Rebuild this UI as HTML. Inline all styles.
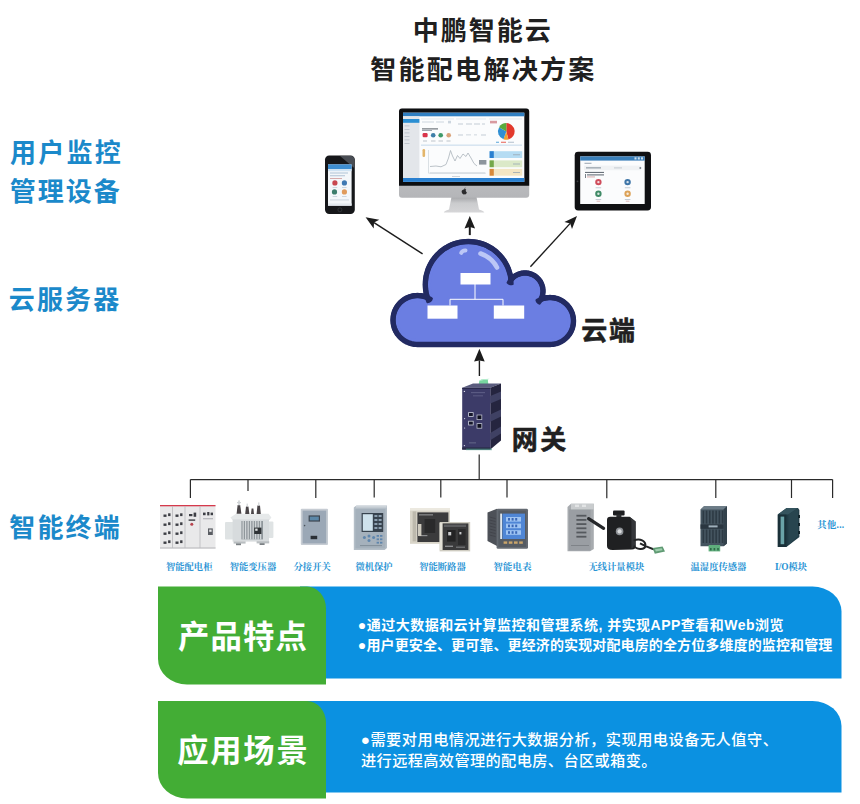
<!DOCTYPE html>
<html lang="zh"><head><meta charset="utf-8"><title>中鹏智能云 智能配电解决方案</title><style>html,body{margin:0;padding:0;background:#fff;font-family:"Liberation Sans",sans-serif}svg{display:block}</style></head><body>
<svg width="860" height="804" viewBox="0 0 860 804"><path d="M510.5 276.1 L509.8 273.4 L509.0 270.7 L508.0 268.0 L506.9 265.5 L505.5 263.0 L504.1 260.6 L502.4 258.3 L500.6 256.1 L498.7 254.1 L496.7 252.2 L494.5 250.4 L492.2 248.7 L489.8 247.3 L487.3 245.9 L484.8 244.8 L482.1 243.8 L479.4 243.0 L476.7 242.3 L473.9 241.9 L471.1 241.6 L468.3 241.5 L465.5 241.6 L462.7 241.9 L459.9 242.3 L457.2 243.0 L454.5 243.8 L451.8 244.8 L449.3 245.9 L446.8 247.3 L444.4 248.7 L442.1 250.4 L439.9 252.2 L437.9 254.1 L436.0 256.1 L434.2 258.3 L432.5 260.6 L431.1 263.0 L429.7 265.5 L428.6 268.0 L427.6 270.7 L426.8 273.4 L426.1 276.1 L425.7 278.9 L425.4 281.7 L425.3 284.5 L425.4 287.3 L425.7 290.1 L426.1 292.9 L426.8 295.6 L427.4 297.6 L426.9 297.4 L425.4 296.8 L423.8 296.3 L422.3 296.0 L420.7 295.7 L419.1 295.6 L417.5 295.5 L415.9 295.6 L414.3 295.7 L412.7 296.0 L411.2 296.3 L409.6 296.8 L408.1 297.4 L406.7 298.0 L405.2 298.8 L403.9 299.6 L402.6 300.6 L401.3 301.6 L400.2 302.7 L399.1 303.8 L398.1 305.1 L397.1 306.4 L396.3 307.8 L395.5 309.2 L394.9 310.6 L394.3 312.1 L393.8 313.7 L393.5 315.2 L393.2 316.8 L393.1 318.4 L393.0 320.0 L393.1 321.6 L393.2 323.2 L393.5 324.8 L393.8 326.3 L394.3 327.9 L394.9 329.4 L395.5 330.8 L396.3 332.2 L397.1 333.6 L398.1 334.9 L399.1 336.2 L400.2 337.3 L401.3 338.4 L402.6 339.4 L403.9 340.4 L405.2 341.2 L406.7 342.0 L408.1 342.6 L409.6 343.2 L411.2 343.7 L412.7 344.0 L414.3 344.3 L415.9 344.4 L417.5 344.5 L550.0 344.5 L551.5 344.4 L553.1 344.3 L554.6 344.0 L556.1 343.7 L557.6 343.3 L559.0 342.7 L560.4 342.1 L561.8 341.4 L563.1 340.5 L564.3 339.6 L565.5 338.7 L566.6 337.6 L567.7 336.5 L568.6 335.3 L569.5 334.1 L570.4 332.8 L571.1 331.4 L571.7 330.0 L572.3 328.6 L572.7 327.1 L573.0 325.6 L573.3 324.1 L573.4 322.5 L573.5 321.0 L573.4 319.5 L573.3 317.9 L573.0 316.4 L572.7 314.9 L572.3 313.4 L571.7 312.0 L571.1 310.6 L570.4 309.2 L569.5 307.9 L568.6 306.7 L567.7 305.5 L566.6 304.4 L565.5 303.3 L564.3 302.4 L563.1 301.5 L561.8 300.6 L560.4 299.9 L559.0 299.3 L557.6 298.7 L556.1 298.3 L554.6 298.0 L553.1 297.7 L551.5 297.6 L550.0 297.5 L548.5 297.6 L546.9 297.7 L545.4 298.0 L543.9 298.3 L542.4 298.7 L541.0 299.3 L541.0 299.3 L541.1 299.0 L541.6 297.9 L542.0 296.8 L542.4 295.7 L542.7 294.5 L542.8 293.3 L543.0 292.2 L543.0 291.0 L543.0 289.8 L542.8 288.7 L542.7 287.5 L542.4 286.3 L542.0 285.2 L541.6 284.1 L541.1 283.0 L540.6 282.0 L540.0 281.0 L539.3 280.0 L538.5 279.1 L537.7 278.3 L536.9 277.5 L536.0 276.7 L535.0 276.0 L534.0 275.4 L533.0 274.9 L531.9 274.4 L530.8 274.0 L529.7 273.6 L528.5 273.3 L527.3 273.2 L526.2 273.0 L525.0 273.0 L523.8 273.0 L522.7 273.2 L521.5 273.3 L520.3 273.6 L519.2 274.0 L518.1 274.4 L517.0 274.9 L516.0 275.4 L515.0 276.0 L514.0 276.7 L513.1 277.5 L512.3 278.3 L511.5 279.1 L511.0 279.7 L510.9 278.9Z" fill="#6b7ee2" stroke="#222a62" stroke-width="5.4" stroke-linejoin="round"/><clipPath id="cc"><rect x="380" y="230" width="210" height="106"/></clipPath><g fill="none" stroke="#222a62" stroke-width="4.800000000000001" clip-path="url(#cc)"><circle cx="468.3" cy="284.5" r="43.0"/><circle cx="417.5" cy="320.0" r="24.5"/><circle cx="550.0" cy="321.0" r="23.5"/><circle cx="525.0" cy="291.0" r="18.0"/></g><path d="M505.0 277.2 L504.4 274.8 L503.7 272.5 L502.9 270.2 L501.8 268.0 L500.7 265.8 L499.4 263.7 L498.0 261.7 L496.4 259.8 L494.7 258.1 L493.0 256.4 L491.1 254.8 L489.1 253.4 L487.0 252.1 L484.8 251.0 L482.6 249.9 L480.3 249.1 L478.0 248.4 L475.6 247.8 L473.2 247.4 L470.7 247.2 L468.3 247.1 L465.9 247.2 L463.4 247.4 L461.0 247.8 L458.6 248.4 L456.3 249.1 L454.0 249.9 L451.8 251.0 L449.6 252.1 L447.5 253.4 L445.5 254.8 L443.6 256.4 L441.9 258.1 L440.2 259.8 L438.6 261.7 L437.2 263.7 L435.9 265.8 L434.8 268.0 L433.7 270.2 L432.9 272.5 L432.2 274.8 L431.6 277.2 L431.2 279.6 L431.0 282.1 L430.9 284.5 L431.0 286.9 L431.2 289.4 L431.6 291.8 L432.2 294.2 L432.7 296.0 L432.9 296.5 L432.9 297.1 L433.0 297.6 L432.9 298.2 L432.8 298.7 L432.7 299.3 L432.5 299.8 L432.3 300.3 L432.0 300.8 L431.6 301.2 L431.3 301.6 L430.8 302.0 L430.4 302.3 L429.9 302.6 L429.4 302.8 L428.9 303.0 L428.3 303.1 L427.8 303.2 L427.2 303.2 L426.7 303.1 L426.1 303.0 L425.6 302.9 L425.0 302.7 L424.7 302.5 L423.6 302.1 L422.4 301.7 L421.2 301.5 L420.0 301.3 L418.7 301.1 L417.5 301.1 L416.3 301.1 L415.0 301.3 L413.8 301.5 L412.6 301.7 L411.4 302.1 L410.3 302.5 L409.1 303.1 L408.1 303.6 L407.0 304.3 L406.0 305.0 L405.0 305.8 L404.1 306.6 L403.3 307.5 L402.5 308.5 L401.8 309.5 L401.1 310.6 L400.6 311.6 L400.0 312.8 L399.6 313.9 L399.2 315.1 L399.0 316.3 L398.8 317.5 L398.6 318.8 L398.6 320.0 L398.6 321.2 L398.8 322.5 L399.0 323.7 L399.2 324.9 L399.6 326.1 L400.0 327.2 L400.6 328.4 L401.1 329.4 L401.8 330.5 L402.5 331.5 L403.3 332.5 L404.1 333.4 L405.0 334.2 L406.0 335.0 L407.0 335.7 L408.1 336.4 L409.1 336.9 L410.3 337.5 L411.4 337.9 L412.6 338.3 L413.8 338.5 L415.0 338.7 L416.3 338.9 L417.6 338.9 L549.9 338.9 L551.2 338.9 L552.3 338.7 L553.5 338.6 L554.6 338.3 L555.8 337.9 L556.8 337.5 L557.9 337.1 L558.9 336.5 L559.9 335.9 L560.9 335.2 L561.8 334.5 L562.7 333.7 L563.5 332.8 L564.2 331.9 L564.9 330.9 L565.5 329.9 L566.1 328.9 L566.5 327.8 L566.9 326.8 L567.3 325.6 L567.6 324.5 L567.7 323.3 L567.9 322.2 L567.9 321.0 L567.9 319.8 L567.7 318.7 L567.6 317.5 L567.3 316.4 L566.9 315.2 L566.5 314.2 L566.1 313.1 L565.5 312.1 L564.9 311.1 L564.2 310.1 L563.5 309.2 L562.7 308.3 L561.8 307.5 L560.9 306.8 L559.9 306.1 L558.9 305.5 L557.9 304.9 L556.8 304.5 L555.8 304.1 L554.6 303.7 L553.5 303.4 L552.3 303.3 L551.2 303.1 L550.0 303.1 L548.8 303.1 L547.7 303.3 L546.5 303.4 L545.4 303.7 L544.2 304.1 L543.0 304.5 L543.0 304.5 L542.7 304.6 L542.2 304.8 L541.7 304.9 L541.1 304.9 L540.6 304.9 L540.0 304.8 L539.5 304.7 L538.9 304.5 L538.4 304.3 L537.9 304.0 L537.5 303.7 L537.1 303.3 L536.7 302.9 L536.3 302.5 L536.1 302.0 L535.8 301.5 L535.6 301.0 L535.5 300.5 L535.4 299.9 L535.4 299.3 L535.4 298.8 L535.5 298.2 L535.6 297.7 L535.8 297.2 L536.0 296.7 L536.1 296.5 L536.5 295.7 L536.7 295.0 L537.0 294.2 L537.2 293.4 L537.3 292.6 L537.4 291.8 L537.4 291.0 L537.4 290.2 L537.3 289.4 L537.2 288.6 L537.0 287.8 L536.7 287.0 L536.5 286.3 L536.1 285.5 L535.7 284.8 L535.3 284.1 L534.8 283.5 L534.3 282.8 L533.8 282.2 L533.2 281.7 L532.5 281.2 L531.9 280.7 L531.2 280.3 L530.5 279.9 L529.7 279.5 L529.0 279.3 L528.2 279.0 L527.4 278.8 L526.6 278.7 L525.8 278.6 L525.0 278.6 L524.2 278.6 L523.4 278.7 L522.6 278.8 L521.8 279.0 L521.0 279.3 L520.3 279.5 L519.5 279.9 L518.8 280.3 L518.1 280.7 L517.5 281.2 L516.8 281.7 L516.2 282.2 L515.7 282.8 L515.3 283.2 L515.0 283.6 L514.6 284.0 L514.1 284.3 L513.7 284.6 L513.2 284.9 L512.6 285.0 L512.1 285.2 L511.6 285.3 L511.0 285.3 L510.5 285.3 L509.9 285.2 L509.4 285.0 L508.9 284.9 L508.4 284.6 L507.9 284.3 L507.5 284.0 L507.1 283.6 L506.7 283.2 L506.4 282.8 L506.1 282.3 L505.8 281.8 L505.7 281.3 L505.5 280.8 L505.4 280.2 L505.4 279.6Z" fill="#6b7ee2"/><g fill="none" stroke="#bcc7f6" stroke-linecap="round"><path d="M461.2 252.8 Q462.5 250.2 465.5 250.4" stroke-width="4"/><path d="M480.5 253.5 Q492 257.5 497 267.5" stroke-width="4.6"/></g><g fill="#fff"><rect x="460.5" y="273" width="30" height="11.5"/><rect x="427.5" y="305.5" width="30" height="13.2"/><rect x="493.8" y="305.5" width="30.4" height="13.2"/></g><path d="M475 284 V299.3 M450 305.5 V299.3 H503 V305.5" fill="none" stroke="#fff" stroke-width="1"/><path d="M422.6 253.8 L374.0 222.6" stroke="#1c1c1c" stroke-width="1.4" fill="none"/><path fill="#1c1c1c" d="M365.6 217.2 L379.3 219.8 L374.0 222.6 L373.7 228.6 Z"/><path d="M469.8 235.1 L469.8 227.0" stroke="#1c1c1c" stroke-width="2" fill="none"/><path fill="#1c1c1c" d="M469.8 216.0 L475.1 228.5 L469.8 227.0 L464.5 228.5 Z"/><path d="M530.4 266.7 L570.2 223.4" stroke="#1c1c1c" stroke-width="1.4" fill="none"/><path fill="#1c1c1c" d="M577.0 216.0 L572.0 229.1 L570.2 223.4 L564.4 222.1 Z"/><path d="M479.4 376.0 L479.4 360.4" stroke="#1c1c1c" stroke-width="1.4" fill="none"/><path fill="#1c1c1c" d="M479.4 348.8 L484.7 361.4 L479.4 360.4 L474.1 361.4 Z"/><g><rect x="325" y="155.4" width="29.8" height="58.6" rx="4.2" fill="#16171a"/><path d="M340 156 H351 Q354.2 156 354.2 159.5 V168 Z" fill="#5b6068" opacity=".75"/><rect x="328" y="164.4" width="23.6" height="41.3" fill="#f4f7fa"/><rect x="328" y="164.4" width="23.6" height="4.6" fill="#3f8fd2"/><rect x="328" y="169" width="23.6" height="2.2" fill="#cfe3f3"/><g fill="#9fb6cc"><rect x="330" y="172.6" width="18" height=".8"/><rect x="330" y="175.4" width="15" height=".8"/><rect x="330" y="178" width="12" height=".7" fill="#c98a8a"/></g><circle cx="334.9" cy="182.9" r="2.6" fill="#c8474f"/><circle cx="344.4" cy="182.9" r="2.6" fill="#3f79b2"/><circle cx="334.5" cy="191.9" r="2.6" fill="#3c7d6c"/><circle cx="344.4" cy="191.9" r="2.6" fill="#e09b5c"/><g fill="#b9c6d2"><rect x="332.6" y="187" width="4.6" height=".7"/><rect x="342" y="187" width="4.6" height=".7"/><rect x="332.6" y="196" width="4.6" height=".7"/><rect x="342" y="196" width="4.6" height=".7"/><rect x="330" y="199.6" width="19" height=".7"/></g><rect x="328" y="203.4" width="23.6" height="2.3" fill="#e3e9ef"/><circle cx="339.9" cy="209.8" r="2" fill="none" stroke="#3a3d42" stroke-width=".7"/></g><defs><linearGradient id="chin" x1="0" y1="0" x2="0" y2="1"><stop offset="0" stop-color="#d9dadc"/><stop offset="1" stop-color="#b4b5b8"/></linearGradient><linearGradient id="stand" x1="0" y1="0" x2="0" y2="1"><stop offset="0" stop-color="#a4a5a8"/><stop offset=".4" stop-color="#cbccce"/><stop offset="1" stop-color="#d6d6d8"/></linearGradient></defs><path d="M451.5 197 H476.5 L479 209.5 Q484 211 484.3 212.6 H443.8 Q444 211 449 209.5 Z" fill="url(#stand)"/><rect x="399" y="108.4" width="130.2" height="89.4" rx="3" fill="url(#chin)"/><path d="M402 108.4 H526.2 Q529.2 108.4 529.2 111.4 V185.8 H399 V111.4 Q399 108.4 402 108.4Z" fill="#0d0e10"/><rect x="403" y="112.7" width="121.3" height="69.2" fill="#fbfcfd"/><rect x="403" y="112.7" width="121.3" height="3.6" fill="#2f7fc2"/><rect x="403" y="116.3" width="16.4" height="61.8" fill="#e3e6ea"/><rect x="403" y="119" width="16.4" height="3.8" fill="#2b8fd3"/><g fill="#b7bec7"><rect x="404.5" y="125.5" width="5" height=".8"/><rect x="404.5" y="129" width="5" height=".8"/><rect x="404.5" y="132.5" width="5" height=".8"/><rect x="404.5" y="136" width="5" height=".8"/><rect x="404.5" y="139.5" width="5" height=".8"/><rect x="404.5" y="143" width="5" height=".8"/></g><rect x="403" y="178" width="121.3" height="3.9" fill="#2a80d0"/><g fill="#dfe7ee"><rect x="421" y="118.5" width="33" height=".9"/><rect x="456" y="118.5" width="30" height=".9"/><rect x="489" y="118.5" width="33" height=".9"/><rect x="421" y="144.6" width="101" height="1.1" fill="#c9dcec"/></g><g fill="#cdd6df"><rect x="422" y="121.5" width="12" height="1"/><rect x="436" y="121.5" width="8" height="1"/><rect x="448" y="120.8" width="3" height="2.6"/><rect x="422" y="128.4" width="16" height="1" fill="#555d66"/><rect x="422" y="130.2" width="10" height=".8" fill="#8a939c"/></g><g fill="#c3ccd6"><rect x="458" y="123.5" width="5" height="1"/><rect x="466" y="123.5" width="6" height="1"/><rect x="474" y="123.5" width="6" height="1"/><rect x="482" y="123.5" width="3" height="1"/><rect x="458" y="134.5" width="5" height="1"/><rect x="466" y="134.5" width="5" height=".8"/><rect x="474" y="134.5" width="3" height=".8"/><rect x="481" y="134.5" width="5" height="1"/></g><rect x="422.6" y="133" width="5" height="4.2" rx="1.2" fill="#d9344a"/><circle cx="433.2" cy="135.2" r="2.3" fill="#3f7fa8"/><circle cx="440.7" cy="135.2" r="2.3" fill="#3f9a6a"/><circle cx="448.7" cy="135.2" r="2.3" fill="#d9a27a"/><g fill="#aeb6bf"><rect x="423" y="140.6" width="4" height=".8"/><rect x="431" y="140.6" width="4.5" height=".8"/><rect x="438.5" y="140.6" width="4.5" height=".8"/><rect x="446.5" y="140.6" width="4" height=".8"/></g><path d="M506.30 131.40 L506.30 123.10 A8.3 8.3 0 0 1 508.45 139.42 Z" fill="#e2392c"/><path d="M506.30 131.40 L508.45 139.42 A8.3 8.3 0 0 1 503.46 139.20 Z" fill="#f0a030"/><path d="M506.30 131.40 L503.46 139.20 A8.3 8.3 0 0 1 499.11 127.25 Z" fill="#2f8fd3"/><path d="M506.30 131.40 L499.11 127.25 A8.3 8.3 0 0 1 506.30 123.10 Z" fill="#5aaa3c"/><rect x="490" y="120.8" width="7" height="2.6" fill="#d99aa0"/><g fill="#9fb0c0"><rect x="496" y="141.8" width="3" height=".8" fill="#2f8fd3"/><rect x="501" y="141.8" width="5" height=".8" fill="#e2392c"/><rect x="508" y="141.8" width="6" height=".8"/></g><rect x="422.5" y="149" width="2.6" height="8" rx="1.2" fill="#e3b56a"/><path d="M428.5 150 V173.2 H486" fill="none" stroke="#c5ccd3" stroke-width=".6"/><path d="M430 166.5 L436 166 L441 166.8 L446 164.5 L448.5 158 L450.5 150.5 L452.5 156 L455 161 L457.5 155.5 L460 158.5 L463 154 L466 156.5 L468 153 L471 158 L474 163.5 L477 166" fill="none" stroke="#aab2ba" stroke-width=".8"/><g fill="#c3cad1"><rect x="430" y="172.6" width="55" height=".7"/><rect x="452" y="176" width="8" height=".8"/></g><rect x="479" y="160" width="7.4" height="4.6" fill="#8d959d"/><rect x="489.6" y="151.2" width="32.6" height="6.8" fill="#b5dcf3"/><rect x="489.6" y="151.2" width="4.2" height="6.8" fill="#2a80d0"/><rect x="513" y="154.39999999999998" width="7" height=".8" fill="#9aa7b3"/><rect x="489.6" y="160.4" width="32.6" height="6.8" fill="#dbe9c8"/><rect x="489.6" y="160.4" width="4.2" height="6.8" fill="#74a84a"/><rect x="513" y="163.6" width="7" height=".8" fill="#9aa7b3"/><rect x="489.6" y="168.9" width="32.6" height="6.8" fill="#f4e6c4"/><rect x="489.6" y="168.9" width="4.2" height="6.8" fill="#d98a3a"/><rect x="513" y="172.1" width="7" height=".8" fill="#9aa7b3"/><path d="M463.6 189.4 q1.4 -.9 2.6 0 q-.9 1 -.2 2.2 q.4 .6 .9 .8 q-.7 2 -1.9 2.1 q-.7 -.4 -1.4 0 q-1.3 -.2 -1.9 -2.2 q-.5 -2.3 1.9 -2.9z M464.3 188.9 q.1 -1.2 1.2 -1.5 q.1 1.2 -1.2 1.5z" fill="#2b2b2d"/><rect x="574.7" y="151.8" width="76.3" height="58.6" rx="3.4" fill="#101113"/><rect x="580.2" y="156.4" width="64.5" height="47.6" fill="#fbfcfd"/><rect x="580.2" y="156.4" width="64.5" height="4.2" fill="#3a7fb9"/><g fill="#cfe0ee"><rect x="634.5" y="157.3" width="2" height="2.2"/><rect x="637.8" y="157.3" width="2" height="2.2"/><rect x="641" y="157.3" width="2" height="2.2"/></g><g fill="#8d99a6"><rect x="584.5" y="162.8" width="7" height=".9"/></g><rect x="584" y="165.6" width="57" height="4.6" fill="#f0f2f4"/><rect x="586" y="167.2" width="15" height="1.3" fill="#9aa3ad"/><rect x="614" y="167.4" width="8" height="1" fill="#c3cad1"/><circle cx="640.3" cy="167.9" r="1" fill="#7b848e"/><g fill="#59626c"><rect x="585" y="171.9" width="19" height="1"/><rect x="587" y="174.4" width="17" height="1"/><rect x="585" y="174" width=".8" height="4"/><rect x="587" y="176.6" width="8" height=".7" fill="#c98a8a"/></g><circle cx="598.4" cy="182.1" r="3.2" fill="#cf4d5c"/><circle cx="627.6" cy="182.1" r="3.2" fill="#3f76a8"/><circle cx="598.4" cy="193.8" r="3.2" fill="#3f8a66"/><circle cx="627.6" cy="193.8" r="3.2" fill="#dca258"/><g fill="#fff" opacity=".8"><circle cx="598.4" cy="182.1" r="1.2"/><circle cx="627.6" cy="182.1" r="1.2"/><circle cx="598.4" cy="193.8" r="1.2"/><circle cx="627.6" cy="193.8" r="1.2"/></g><g fill="#b6c0ca"><rect x="595.6" y="187.4" width="5.6" height=".8"/><rect x="624.8" y="187.4" width="5.6" height=".8"/><rect x="595.6" y="199" width="5.6" height=".8"/><rect x="624.8" y="199" width="5.6" height=".8"/><rect x="596.6" y="200.8" width="3.6" height=".7" fill="#d8a0a0"/><rect x="625.8" y="200.8" width="3.6" height=".7" fill="#d8a0a0"/></g><circle cx="577.5" cy="181.3" r=".9" fill="#3a3c40"/><path d="M478.2 386.8 L479.4 380.4 L487.8 379.6 L488.6 386.6 Z" fill="#78d6a0"/><path d="M479.4 380.4 L481.5 379.2 L489.6 378.8 L487.8 379.6Z" fill="#a7e8c4"/><path d="M462.2 387.8 L473 383.6 H501 L490.4 387.8 Z" fill="#5a5c7e"/><path d="M490.3 387.8 L501 383.5 V440.4 L490.3 449.6 Z" fill="#25253f"/><g fill="#3f4163"><path d="M490.3 396 L501 391.6 V399 L490.3 403.6Z"/><path d="M490.3 414.5 L501 409.4 V416.6 L490.3 421.8Z"/><path d="M490.3 433 L501 426.6 V433.4 L490.3 440.2Z"/></g><rect x="462.2" y="387.8" width="28.2" height="61.8" fill="#3c3b68"/><rect x="462.2" y="387.8" width="28.2" height="1.2" fill="#2a2a4c"/><rect x="462.2" y="447.4" width="28.2" height="2.2" fill="#2a2c48"/><g fill="#6f7096"><rect x="471" y="392.4" width="14" height=".7"/><rect x="473" y="395.6" width="10" height=".6"/><rect x="469" y="442" width="7" height="1.6" fill="#55577c"/></g><g fill="#d9dbe6"><circle cx="464.4" cy="391.4" r=".7"/><circle cx="464.4" cy="445.6" r=".7"/><circle cx="464.6" cy="418.6" r=".6"/><circle cx="464.6" cy="428" r=".6"/></g><g><rect x="468.2" y="412.2" width="5.4" height="4.6" fill="#c9ccd8"/><rect x="469" y="413" width="3.8" height="3" fill="#15162a"/><rect x="468.2" y="420.8" width="5.4" height="4.6" fill="#c9ccd8"/><rect x="469" y="421.6" width="3.8" height="3" fill="#15162a"/><rect x="476.6" y="414.6" width="5.6" height="5.4" fill="#b9bccb"/><rect x="477.4" y="415.4" width="4" height="3.8" fill="#0f1020"/><rect x="476.6" y="423.2" width="5.6" height="5.4" fill="#b9bccb"/><rect x="477.4" y="424" width="4" height="3.8" fill="#0f1020"/></g><rect x="466" y="448.6" width="26" height="1.6" fill="#4c9b86" opacity=".6"/><path d="M190.4 479.6 H832.6 M479.2 454.6 V479.6 M190.4 479.6 V498 M248 479.6 V491 M315.8 479.6 V498 M374.2 479.6 V497.5 M440.8 479.6 V497.5 M507 479.6 V497.5 M606.8 479.6 V498.2 M715.8 479.6 V498 M791.5 479.6 V498 M832.6 479.6 V498" fill="none" stroke="#2a2a2a" stroke-width="1.2"/><rect x="160" y="505" width="55.5" height="43.8" fill="#e9e9ea"/><rect x="160" y="505" width="55.5" height="1.3" fill="#d53a4c"/><rect x="160" y="547" width="55.5" height="1.8" fill="#cfcfd1"/><g fill="#b9babd"><rect x="172" y="506" width=".8" height="42"/><rect x="184.6" y="506" width=".8" height="42"/><rect x="199.6" y="506" width=".8" height="42"/></g><g fill="#3d3f45"><rect x="163.5" y="514.5" width="3" height="2.4"/><rect x="168.1" y="513.3" width="2.4" height="2.8"/><rect x="163.5" y="523.5" width="3" height="2.4"/><rect x="168.1" y="522.3" width="2.4" height="2.8"/><rect x="163.5" y="532.5" width="3" height="2.4"/><rect x="168.1" y="531.3" width="2.4" height="2.8"/><rect x="163.5" y="541.5" width="3" height="2.4"/><rect x="168.1" y="540.3" width="2.4" height="2.8"/><rect x="175.5" y="514.5" width="3" height="2.4"/><rect x="180.1" y="513.3" width="2.4" height="2.8"/><rect x="175.5" y="523.5" width="3" height="2.4"/><rect x="180.1" y="522.3" width="2.4" height="2.8"/><rect x="175.5" y="532.5" width="3" height="2.4"/><rect x="180.1" y="531.3" width="2.4" height="2.8"/><rect x="175.5" y="541.5" width="3" height="2.4"/><rect x="180.1" y="540.3" width="2.4" height="2.8"/></g><g fill="#3d3f45"><rect x="189" y="514" width="3.4" height="2.2"/><rect x="193.6" y="512.6" width="2.6" height="4.2"/><rect x="188.6" y="519.4" width="6.6" height="1.4"/><circle cx="191.8" cy="524.2" r="1.5" fill="#b8444e"/><rect x="203" y="512.6" width="2.6" height="2.6"/><rect x="207.2" y="512" width="2.2" height="3.4"/><rect x="210.6" y="512.6" width="2.4" height="2.6"/><rect x="203" y="518.4" width="10" height=".8" fill="#9a9ca1"/><rect x="208" y="528.4" width="4.8" height="6.6" fill="#5a5d63"/><rect x="209.2" y="529.6" width="2.4" height="2.2" fill="#e9e9ea"/></g><g><g fill="#dfe3e4"><rect x="225" y="522" width="8.6" height="17.4" rx="1"/><rect x="264.6" y="521.4" width="8.8" height="16.6" rx="1"/></g><path d="M230.4 517.6 L236 513.8 H268.6 L271.4 517.4 L269.6 520 H232.4 Z" fill="#e6e9ea"/><rect x="232.6" y="519.4" width="36.4" height="22.2" fill="#d7dbdd"/><rect x="241.4" y="521" width="21.6" height="18.4" fill="#8f979b"/><g fill="#d9dddf"><rect x="242.6" y="521" width="1.1" height="18.4"/><rect x="245.1" y="521" width="1.1" height="18.4"/><rect x="247.6" y="521" width="1.1" height="18.4"/><rect x="250.1" y="521" width="1.1" height="18.4"/><rect x="252.6" y="521" width="1.1" height="18.4"/><rect x="255.1" y="521" width="1.1" height="18.4"/><rect x="257.6" y="521" width="1.1" height="18.4"/><rect x="260.1" y="521" width="1.1" height="18.4"/></g><rect x="254.2" y="527.6" width="7.2" height="6.4" fill="#2f3336"/><rect x="255.2" y="528.6" width="2.4" height="2.2" fill="#dfe3e4"/><g fill="#b9bec1"><rect x="233.6" y="541.4" width="12" height="2.2"/><rect x="256.6" y="541.2" width="12.6" height="2.2"/><rect x="236" y="543.4" width="5" height="1.8" fill="#7b8084"/><rect x="259.6" y="543.2" width="5" height="1.8" fill="#7b8084"/></g><g fill="#4a4548"><path d="M236.6 513.8 L237.6 505 H240.2 L241.4 513.8Z"/><path d="M245.2 514 L246 506.4 H248.4 L249.4 514Z"/><path d="M251 514 L251.6 508.6 H253.4 L254 514Z"/><path d="M256.6 514 L257.4 505.6 H260 L260.8 514Z"/></g><g fill="#cfd3d5"><rect x="238.2" y="500.4" width="1.6" height="5"/><rect x="237" y="502" width="4" height="1.2"/><rect x="246.6" y="503.6" width="1.2" height="3"/><rect x="258.2" y="502.4" width="1.2" height="3.4"/></g></g><rect x="300.8" y="508.8" width="27.2" height="36.2" rx="1" fill="#c6ccd3"/><rect x="302.6" y="510.6" width="23.6" height="32.8" fill="#9ba8b6"/><rect x="308.6" y="515.4" width="11.4" height="6.2" fill="#3e4650"/><rect x="309.8" y="516.6" width="9" height="3.8" fill="#5b87a8"/><rect x="310.6" y="535.8" width="6.6" height="3.4" fill="#2b3036"/><circle cx="304.6" cy="525.6" r=".8" fill="#4a525b"/><path d="M353.8 507.4 L356.4 505.5 H387 V548 L384.6 550 H353.8 Z" fill="#b4bec7"/><rect x="355.4" y="509" width="30" height="39.4" fill="#a5b1bc"/><rect x="356" y="506" width="30.6" height="1.6" fill="#cdd4da"/><rect x="361.6" y="513" width="21.6" height="19" fill="#38434e"/><rect x="362.8" y="514.2" width="10" height="16.6" fill="#cfe2ec"/><g fill="#8da0b0"><rect x="374.4" y="515" width="3" height="2"/><rect x="378.6" y="515" width="3" height="2"/><rect x="374.4" y="519" width="3" height="2"/><rect x="378.6" y="519" width="3" height="2"/><rect x="374.4" y="523" width="3" height="2"/><rect x="378.6" y="523" width="3" height="2"/><rect x="374.4" y="527" width="3" height="2"/><rect x="378.6" y="527" width="3" height="2"/></g><g fill="#5f86ad"><circle cx="364.4" cy="537.6" r="1.5"/><circle cx="369" cy="536" r="1.5"/><circle cx="369" cy="540.6" r="1.5"/><circle cx="373.6" cy="537.6" r="1.5"/><rect x="376.6" y="535" width="2.4" height="1.8"/><rect x="380" y="535" width="2.4" height="1.8"/><rect x="376.6" y="538.4" width="2.4" height="1.8"/><rect x="380" y="538.4" width="2.4" height="1.8"/><rect x="376.6" y="541.8" width="2.4" height="1.8"/><rect x="380" y="541.8" width="2.4" height="1.8"/></g><rect x="360" y="545.2" width="22" height=".9" fill="#7d8994"/><rect x="410" y="508" width="40" height="35.8" fill="#d9d5c9"/><rect x="410" y="508" width="40" height="2.6" fill="#ece9e0"/><rect x="412.6" y="511.4" width="3.6" height="30" fill="#bdb9ad"/><rect x="417.4" y="512.4" width="31" height="29.6" fill="#3b3b3c"/><rect x="419" y="514" width="14" height="1.6" fill="#77787a"/><rect x="424.6" y="519" width="10.6" height="14" fill="#2a2a2b"/><rect x="419.4" y="535" width="8" height="1.2" fill="#8d8e90"/><rect x="418" y="524" width="3.4" height="12" fill="#cfcbbf"/><rect x="439.6" y="522" width="30.6" height="29.4" fill="#cfccc1"/><rect x="442.4" y="523.4" width="26" height="26.6" fill="#3a3a3b"/><rect x="444" y="524.6" width="22" height="2.4" fill="#5c5d5f"/><rect x="447" y="530" width="8.6" height="11.6" fill="#232324"/><rect x="458" y="529" width="7.6" height="16" fill="#2b2b2c"/><g fill="#c9cacc"><rect x="448.2" y="532" width="3" height="3.4"/><rect x="459.4" y="532" width="2" height="2.4"/><rect x="445" y="545.6" width="8" height="1.4" fill="#8a8b8d"/><rect x="456" y="546.6" width="9" height="1.2" fill="#77787a"/></g><rect x="439.6" y="523" width="2.8" height="27" fill="#e4e1d7"/><path d="M487.5 512.4 L497 508.8 V546 L487.5 541 Z" fill="#4d5158"/><g stroke="#3a3d43" stroke-width=".6"><path d="M489.6 517.0 L495.6 518.6"/><path d="M489.6 520.0 L495.6 521.6"/><path d="M489.6 523.0 L495.6 524.6"/><path d="M489.6 526.0 L495.6 527.6"/><path d="M489.6 529.0 L495.6 530.6"/><path d="M489.6 532.0 L495.6 533.6"/><path d="M489.6 535.0 L495.6 536.6"/></g><rect x="496.6" y="508.8" width="31.4" height="40" rx="1.4" fill="#646a72"/><rect x="498.4" y="510.6" width="27.8" height="36.4" fill="#555b63"/><rect x="502.4" y="513.6" width="22.6" height="25.4" fill="#4f86d6"/><rect x="500.2" y="513.6" width="1.8" height="25.4" fill="#dfe6ee"/><g fill="#9fc4f2"><rect x="506" y="517" width="15" height="4.6"/><rect x="506" y="523.6" width="15" height="4.6"/><rect x="506" y="530.2" width="15" height="4.6"/></g><g fill="#3a68b8"><rect x="508" y="518" width="2" height="2.6"/><rect x="511.6" y="518" width="2" height="2.6"/><rect x="515.2" y="518" width="2" height="2.6"/><rect x="508" y="524.6" width="2" height="2.6"/><rect x="511.6" y="524.6" width="2" height="2.6"/><rect x="515.2" y="524.6" width="2" height="2.6"/><rect x="508" y="531.2" width="2" height="2.6"/><rect x="511.6" y="531.2" width="2" height="2.6"/><rect x="515.2" y="531.2" width="2" height="2.6"/></g><g fill="#c9a46a"><rect x="503.6" y="541.4" width="3.6" height="2.4"/><rect x="508.8" y="541.4" width="3.6" height="2.4"/><rect x="514" y="541.4" width="3.6" height="2.4"/><rect x="519.2" y="541.4" width="3.6" height="2.4"/></g><path d="M567.5 507 L571 503.8 H593.8 V549 L590 551.3 H567.5 Z" fill="#a7abaf"/><rect x="569" y="509.4" width="21.6" height="41" fill="#9a9ea3"/><rect x="571" y="503.8" width="22.8" height="5.6" fill="#c9ccce"/><rect x="575" y="504.6" width="4" height="2.4" fill="#e2e4e5"/><rect x="582" y="504.6" width="4" height="2.4" fill="#e2e4e5"/><g fill="#55595e"><rect x="576.4" y="514.8" width="10" height="1.8"/><rect x="576.4" y="519" width="10" height="1.8"/><rect x="576.4" y="523.2" width="10" height="1.8"/><rect x="576.4" y="527.4" width="10" height="1.8"/><rect x="576.4" y="531.6" width="10" height="1.8"/><rect x="576.4" y="535.8" width="10" height="1.8"/></g><rect x="571" y="545" width="18" height="1" fill="#7f8388"/><path d="M588.6 518.6 L603.6 528.4" stroke="#26282b" stroke-width="3.2" stroke-linecap="round" fill="none"/><rect x="613" y="510.4" width="11.6" height="5" rx="1" fill="#1d1e20"/><rect x="616.4" y="514.4" width="5" height="4" fill="#2a2b2e"/><path d="M607 520 Q607 516.8 610.4 516.8 H629.6 L635.6 521.4 V546 Q635.6 549.6 632 549.6 L612.6 550 Q607 550 607 546 Z" fill="#1f2022"/><path d="M629.6 516.8 L635.6 521.4 V546 L631.4 548.6 V521 Z" fill="#34363a"/><circle cx="619.6" cy="531.4" r="3.8" fill="#8b8f94"/><circle cx="619.6" cy="531.4" r="2.1" fill="#d9dbdd"/><path d="M633.6 540.6 C640 537.6 646 541 645.4 546 C644.6 550.4 636 549.6 634 545.6 M640 543.4 C646 546.4 650 548.4 655 549.6" fill="none" stroke="#232426" stroke-width="2"/><path d="M652.6 548 L662.6 546.4 L665 551.4 L654.8 553.8 Z" fill="#5f9a73"/><path d="M655 549.2 L661.6 548.2 L662.6 550.2 L655.8 551.6Z" fill="#9fcfae"/><path d="M700.5 509.4 L704 506.3 H727 V543.4 L723.6 546.3 H700.5 Z" fill="#44545f"/><path d="M704 506.3 H727 L723.6 509.4 H700.5Z" fill="#6c7c87"/><g fill="#2d3a44"><rect x="702.6" y="510.6" width="1.5" height="13"/><rect x="705.8" y="510.6" width="1.5" height="13"/><rect x="709.0" y="510.6" width="1.5" height="13"/><rect x="712.2" y="510.6" width="1.5" height="13"/><rect x="715.4" y="510.6" width="1.5" height="13"/><rect x="718.6" y="510.6" width="1.5" height="13"/><rect x="721.8" y="510.6" width="1.5" height="13"/><rect x="702.6" y="529.6" width="1.5" height="13.4"/><rect x="705.8" y="529.6" width="1.5" height="13.4"/><rect x="709.0" y="529.6" width="1.5" height="13.4"/><rect x="712.2" y="529.6" width="1.5" height="13.4"/><rect x="715.4" y="529.6" width="1.5" height="13.4"/><rect x="718.6" y="529.6" width="1.5" height="13.4"/><rect x="721.8" y="529.6" width="1.5" height="13.4"/></g><rect x="700.5" y="524.4" width="23.2" height="4.4" fill="#2a3640"/><rect x="708.6" y="525.4" width="9" height="2" fill="#9fb0bb"/><path d="M723.6 509.4 L727 506.3 V543.4 L723.6 546.3Z" fill="#33424c"/><rect x="708.6" y="545" width="11.6" height="6.4" fill="#5fae7c"/><g fill="#2f6a48"><rect x="710" y="548" width="1.6" height="2.4"/><rect x="713.6" y="548" width="1.6" height="2.4"/><rect x="717.2" y="548" width="1.6" height="2.4"/></g><path d="M777.8 514.6 L786.6 508 H798 L799.4 510 V537 L786.4 547 H777.8 Z" fill="#213c46"/><path d="M777.8 514.6 L786.6 508 H798 L788.4 514.6Z" fill="#35545e"/><rect x="777.8" y="514.6" width="8.6" height="32.4" fill="#1a3038"/><rect x="780.6" y="516.6" width="3.6" height="27.6" fill="#6aa3a8"/><g fill="#14262d"><rect x="797.6" y="515" width="2.4" height="3"/><rect x="797.6" y="523" width="2.4" height="3"/><rect x="797.6" y="531" width="2.4" height="3"/></g><path d="M788.4 514.6 L798 508 V536 L788.4 545Z" fill="#28454f"/><g font-family="&quot;Liberation Sans&quot;, &quot;Noto Sans CJK SC&quot;, sans-serif" font-weight="bold"><text x="412.71" y="40.49" font-size="26" fill="#202020" letter-spacing="2">中鹏智能云</text><text x="370.22" y="78.5" font-size="26" fill="#202020" letter-spacing="2.3">智能配电解决方案</text><text x="9.9" y="162.1" font-size="26" fill="#1b89ca" letter-spacing="2.3">用户监控</text><text x="9.77" y="201.21" font-size="26" fill="#1b89ca" letter-spacing="2">管理设备</text><text x="8.85" y="308.95" font-size="26" fill="#1b89ca" letter-spacing="2.1">云服务器</text><text x="9.22" y="537.33" font-size="26" fill="#1b89ca" letter-spacing="2.2">智能终端</text><text x="581.15" y="339.94" font-size="26" fill="#202020" stroke="#202020" stroke-width="0.55" stroke-linejoin="round" letter-spacing="1.9">云端</text><text x="511.8" y="448.73" font-size="26" fill="#202020" stroke="#202020" stroke-width="0.55" stroke-linejoin="round" letter-spacing="2.5">网关</text></g><g font-family="&quot;Liberation Serif&quot;, &quot;Noto Serif CJK SC&quot;, serif" font-weight="bold" font-size="9.3" fill="#2893d4"><text x="165.94" y="570.05">智能配电柜</text><text x="229.69" y="570.06">智能变压器</text><text x="293.55" y="570.06">分接开关</text><text x="355.43" y="570.04">微机保护</text><text x="419.19" y="570.04">智能断路器</text><text x="493.44" y="570" letter-spacing="0.27">智能电表</text><text x="588.45" y="570.03">无线计量模块</text><text x="690.55" y="570.04">温湿度传感器</text><text x="775.12" y="570.01">I/O模块</text><text x="817.35" y="528.13" letter-spacing="0.3">其他...</text></g><path fill="#0b91e1" d="M300 586.5 H812.5 A29 25 0 0 1 841.5 611.5 V678.5 H300 Z"/><path fill="#43ad35" d="M158 586.5 H307 A19 22 0 0 1 326 608.5 V684.5 H187 A29 25.5 0 0 1 158 659.0 Z"/><path fill="#0b91e1" d="M300 701 H812.5 A29 25 0 0 1 841.5 726 V792.5 H300 Z"/><path fill="#43ad35" d="M158 701 H307 A19 22 0 0 1 326 723 V798.5 H187 A29 25.5 0 0 1 158 773.0 Z"/><g font-family="&quot;Liberation Sans&quot;, &quot;Noto Sans CJK SC&quot;, sans-serif" fill="#fff"><text x="178" y="647.8" font-size="31.38" font-weight="bold" letter-spacing="1.16">产品特点</text><text x="177.16" y="761.91" font-size="31.25" font-weight="bold" letter-spacing="1.85">应用场景</text><text x="357.8" y="630.25" font-size="14" font-weight="bold" textLength="425.7" lengthAdjust="spacing">●通过大数据和云计算监控和管理系统, 并实现APP查看和Web浏览</text><text x="357.8" y="650.07" font-size="14" font-weight="bold" textLength="474.5" lengthAdjust="spacing">●用户更安全、更可靠、更经济的实现对配电房的全方位多维度的监控和管理</text><text x="360.74" y="744.87" font-size="15.2" font-weight="500" textLength="417.1" lengthAdjust="spacing">●需要对用电情况进行大数据分析，实现用电设备无人值守、</text><text x="361.01" y="765.57" font-size="15.2" font-weight="500" textLength="295.4" lengthAdjust="spacing">进行远程高效管理的配电房、台区或箱变。</text></g></svg>
</body></html>
